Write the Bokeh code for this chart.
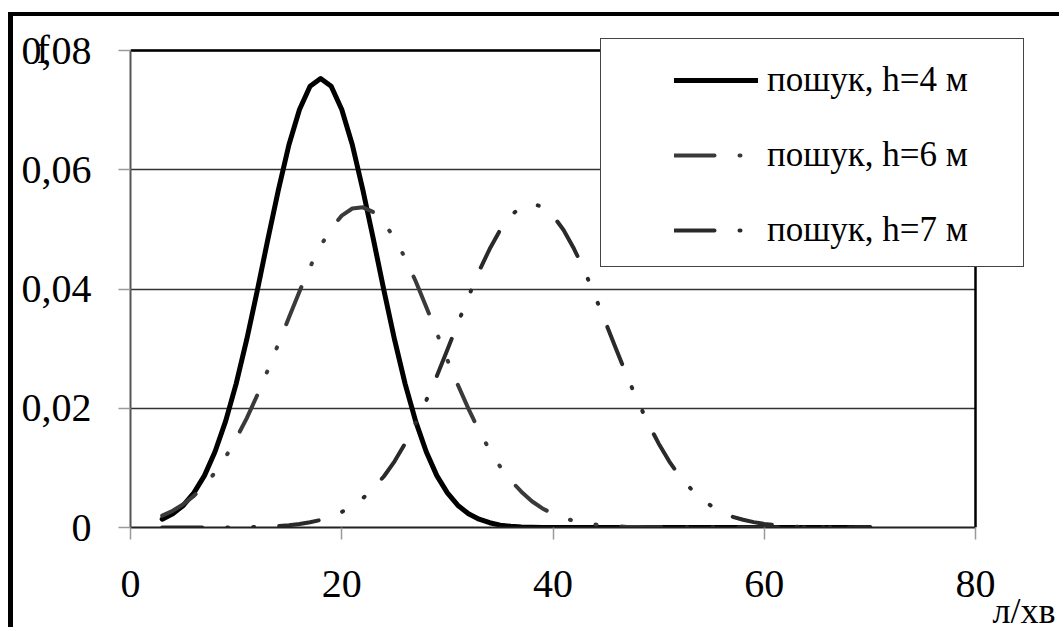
from bokeh.plotting import figure
from bokeh.models import FixedTicker, Legend, LegendItem, Range1d, Title
from bokeh.embed import file_html
from bokeh.resources import INLINE

# ---- data ----
x_lpm = list(range(3, 71))

f_h4 = [0.0014, 0.0023, 0.0037, 0.0058, 0.0087, 0.0127, 0.0178, 0.0241, 0.0315, 0.0397,
        0.0483, 0.0566, 0.0642, 0.0701, 0.0740, 0.0753, 0.0740, 0.0701, 0.0642, 0.0566,
        0.0483, 0.0397, 0.0315, 0.0241, 0.0178, 0.0127, 0.0087, 0.0058, 0.0037, 0.0023,
        0.0014, 0.0008, 0.0004, 0.0002, 0.0001, 0.00005,
        0, 0, 0, 0, 0, 0, 0, 0, 0, 0, 0, 0, 0, 0, 0, 0,
        0, 0, 0, 0, 0, 0, 0, 0, 0, 0, 0, 0, 0, 0, 0, 0]

f_h6 = [0.0020, 0.0028, 0.0039, 0.0053, 0.0071, 0.0092, 0.0118, 0.0149, 0.0183, 0.0222,
        0.0264, 0.0308, 0.0352, 0.0396, 0.0437, 0.0472, 0.0502, 0.0523, 0.0535, 0.0537,
        0.0529, 0.0511, 0.0485, 0.0452, 0.0413, 0.0370, 0.0326, 0.0281, 0.0239, 0.0199,
        0.0162, 0.0130, 0.0102, 0.0079, 0.0060, 0.0044, 0.0032, 0.0023, 0.0016, 0.0011,
        0.0008, 0.0005, 0.0003, 0.0002, 0.0001, 0.0001, 0.00005, 0.00003,
        0, 0, 0, 0, 0, 0, 0, 0, 0, 0, 0, 0, 0, 0, 0, 0, 0, 0, 0, 0]

f_h7 = [0, 0, 0, 0, 0, 0, 0,
        0.00003, 0.00006, 0.00009, 0.00015, 0.00024, 0.00038, 0.00058, 0.00087, 0.00127, 0.00184,
        0.0026, 0.0036, 0.0049, 0.0066, 0.0086, 0.0111, 0.0141, 0.0175, 0.0213, 0.0254,
        0.0298, 0.0343, 0.0387, 0.0430, 0.0467, 0.0499, 0.0523, 0.0538, 0.0543, 0.0538,
        0.0523, 0.0499, 0.0467, 0.0430, 0.0387, 0.0343, 0.0298, 0.0254, 0.0213, 0.0175,
        0.0141, 0.0111, 0.0086, 0.0066, 0.0049, 0.0036, 0.0026, 0.0018, 0.0013, 0.0009,
        0.0006, 0.0004, 0.0002, 0.00015, 0.00009, 0.00005, 0.00003,
        0, 0, 0, 0]

series_labels = ["пошук, h=4 м", "пошук, h=6 м", "пошук, h=7 м"]
x_ticks = [0, 20, 40, 60, 80]
y_ticks = [0, 0.02, 0.04, 0.06, 0.08]
y_tick_labels = ["0", "0,02", "0,04", "0,06", "0,08"]
x_unit = "л/хв"
y_title = "f"

FONT = "Liberation Serif"

# px per data unit of the plotting area (845 px for 0..80, 477 px for 0..0.08)
XPX = 845 / (x_ticks[-1] - x_ticks[0])
YPX = 477 / (y_ticks[-1] - y_ticks[0])

# the drawing area runs on past the 0..80 / 0..0.08 box so the legend frame can overhang it
p = figure(width=1051, height=615, output_backend="svg", toolbar_location=None,
           x_range=Range1d(x_ticks[0], x_ticks[-1] + 89 / XPX),
           y_range=Range1d(y_ticks[0], y_ticks[-1] + 14 / YPX),
           min_border_left=117, min_border_right=0, min_border_top=20, min_border_bottom=104,
           background_fill_color="white", border_fill_color="white",
           styles={"border-left": "5px solid black", "border-top": "4px solid black",
                   "margin-top": "12px", "margin-left": "8px"})
p.outline_line_color = None

# axes
for ax in (p.xaxis[0], p.yaxis[0]):
    ax.major_tick_in = 0
    ax.major_tick_out = 12
    ax.major_tick_line_color = "#9a9a9a"
    ax.major_tick_line_width = 1.5
    ax.minor_tick_line_color = None
    ax.major_label_text_font = FONT
    ax.major_label_text_font_size = "40px"
    ax.major_label_text_color = "black"
    ax.axis_line_width = 2

p.xaxis.bounds = (x_ticks[0], x_ticks[-1])
p.yaxis.bounds = (y_ticks[0], y_ticks[-1])
p.xaxis.major_label_standoff = 31
p.yaxis.major_label_standoff = 27
p.xaxis.ticker = FixedTicker(ticks=x_ticks)
p.yaxis.ticker = FixedTicker(ticks=y_ticks)
p.yaxis.major_label_overrides = {t: l for t, l in zip(y_ticks, y_tick_labels)}
p.xaxis.axis_line_color = "#222222"
p.yaxis.axis_line_color = "#555555"

p.xgrid.visible = False
ygrid = p.ygrid[0]
if "cross_bounds" in ygrid.properties():
    ygrid.ticker = FixedTicker(ticks=y_ticks)
    ygrid.cross_bounds = (x_ticks[0], x_ticks[-1])
    ygrid.grid_line_color = "#333333"
    ygrid.grid_line_width = 1.3
else:
    ygrid.visible = False
    inner = y_ticks[1:-1]
    p.segment(x0=[x_ticks[0]] * len(inner), x1=[x_ticks[-1]] * len(inner), y0=inner, y1=inner,
              line_color="#333333", line_width=1.3)

# top and right edges of the plotting box
p.line([x_ticks[0], x_ticks[-1], x_ticks[-1]], [y_ticks[-1], y_ticks[-1], y_ticks[0]],
       line_color="black", line_width=2.5, line_join="miter")

r4 = p.line(x_lpm, f_h4, line_color="black", line_width=5, line_cap="round", line_join="round")
r6 = p.line(x_lpm, f_h6, line_color="#3a3a3a", line_width=4, line_cap="round", line_join="round",
            line_dash="40 25 1 25 1 25")
r7 = p.line(x_lpm, f_h7, line_color="#2a2a2a", line_width=4, line_cap="round", line_join="round",
            line_dash="40 25 1 25 1 25")

# an empty, invisible renderer used for the legend frame item
blank = p.line([], [], line_alpha=0)

# legend frame (overhangs the plotting box as in the reference)
box_legend = Legend(items=[LegendItem(label=" ", renderers=[blank])],
                    location=(470, 260), glyph_width=422, glyph_height=227,
                    label_standoff=0, label_width=0, label_height=0, padding=0, margin=0,
                    label_text_font_size="1px",
                    background_fill_color="white", background_fill_alpha=1.0,
                    border_line_color="#444444", border_line_width=1.5, border_line_alpha=1.0)
p.add_layout(box_legend, "center")

legend = Legend(items=[LegendItem(label=series_labels[0], renderers=[r4]),
                       LegendItem(label=series_labels[1], renderers=[r6]),
                       LegendItem(label=series_labels[2], renderers=[r7])],
                location=(544, 275), orientation="vertical",
                glyph_width=84, glyph_height=44, label_height=44, label_standoff=9,
                spacing=31, padding=0, margin=0,
                label_text_font=FONT, label_text_font_size="35px", label_text_color="black",
                background_fill_alpha=0, border_line_alpha=0)
p.add_layout(legend, "center")

# axis titles: "f" (top left) and "л/хв" (after the 80 tick)
p.add_layout(Title(text=y_title, align="left", offset=-94, vertical_align="bottom", standoff=-70,
                   text_font=FONT, text_font_size="40px", text_font_style="normal",
                   text_color="black"), "above")
p.add_layout(Title(text=x_unit, align="left", offset=862, vertical_align="top", standoff=-18,
                   text_font=FONT, text_font_size="36px", text_font_style="normal",
                   text_color="black"), "below")

open("out.html", "w").write(file_html(p, INLINE))
